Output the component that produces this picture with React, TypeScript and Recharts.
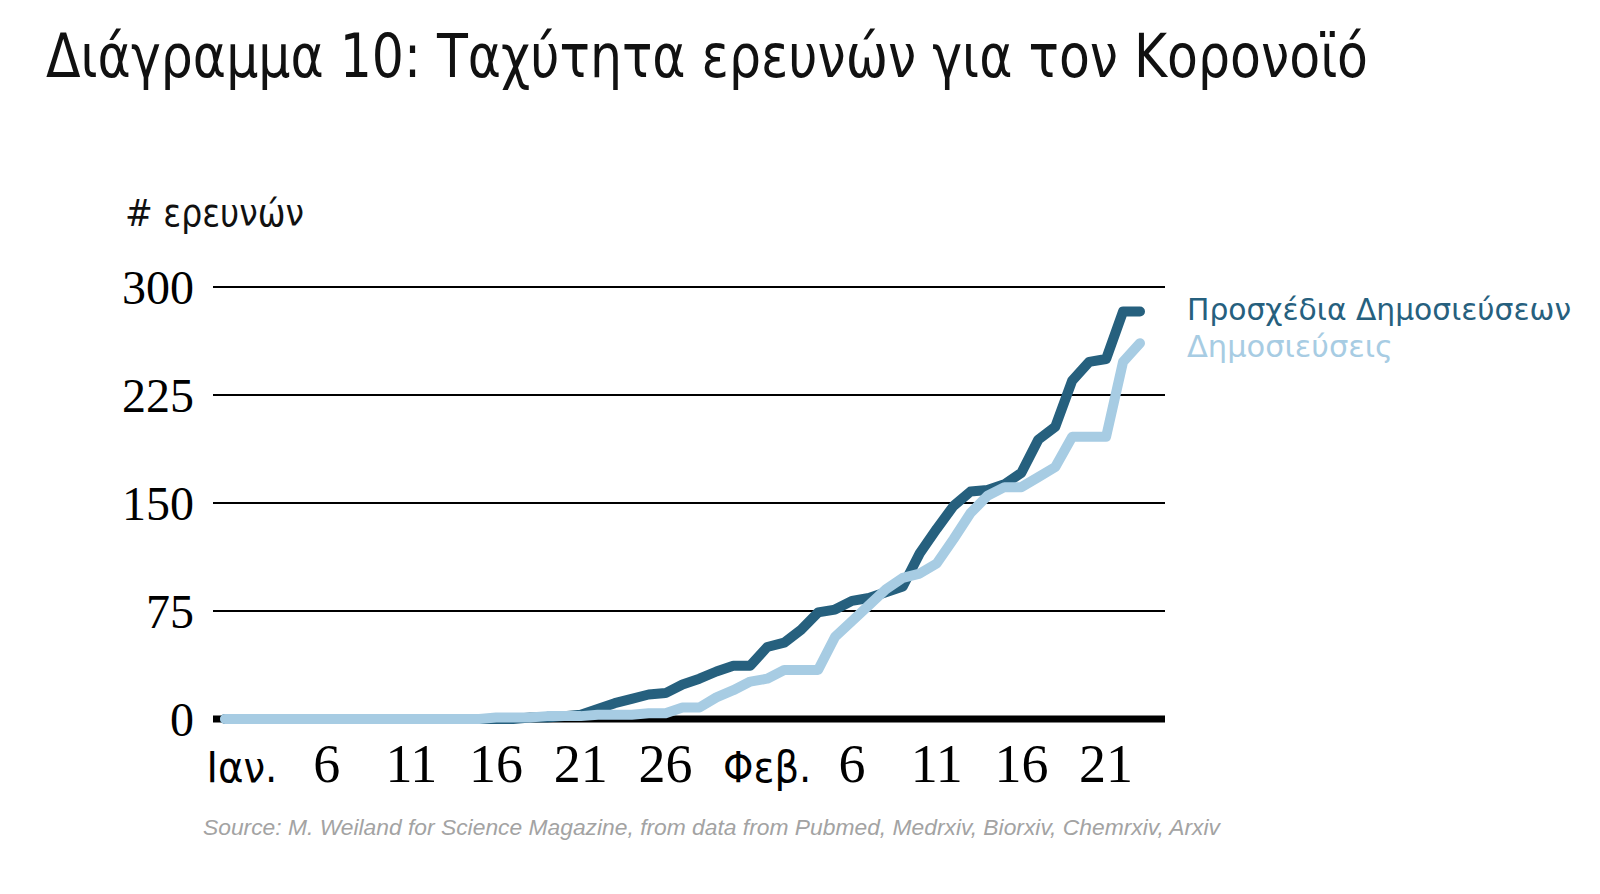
import React from "react"
import { LineChart, Line, XAxis, YAxis, CartesianGrid } from "recharts"

// one point per day, 31 Dec -> 23 Feb
const days = [
  "12/31",
  "1/1", "1/2", "1/3", "1/4", "1/5", "1/6", "1/7", "1/8", "1/9", "1/10",
  "1/11", "1/12", "1/13", "1/14", "1/15", "1/16", "1/17", "1/18", "1/19", "1/20",
  "1/21", "1/22", "1/23", "1/24", "1/25", "1/26", "1/27", "1/28", "1/29", "1/30", "1/31",
  "2/1", "2/2", "2/3", "2/4", "2/5", "2/6", "2/7", "2/8", "2/9", "2/10",
  "2/11", "2/12", "2/13", "2/14", "2/15", "2/16", "2/17", "2/18", "2/19", "2/20",
  "2/21", "2/22", "2/23",
]

// Προσχέδια Δημοσιεύσεων (preprints)
const preprints = [
  0,
  0, 0, 0, 0, 0, 0, 0, 0, 0, 0,
  0, 0, 0, 0, 0, 0, 0, 1, 1, 2,
  3, 7, 11, 14, 17, 18, 24, 28, 33, 37, 37,
  50, 53, 62, 74, 76, 82, 84, 88, 92, 115,
  132, 148, 158, 159, 163, 171, 194, 203, 235, 248,
  250, 283, 283,
]

// Δημοσιεύσεις (publications)
const publications = [
  0,
  0, 0, 0, 0, 0, 0, 0, 0, 0, 0,
  0, 0, 0, 0, 0, 1, 1, 1, 2, 2,
  2, 3, 3, 3, 4, 4, 8, 8, 15, 20, 26,
  28, 34, 34, 34, 57, 68, 79, 90, 98, 101,
  108, 125, 143, 155, 161, 161, 168, 175, 196, 196,
  196, 248, 261,
]

const xTicks = ["1/1", "1/6", "1/11", "1/16", "1/21", "1/26", "2/1", "2/6", "2/11", "2/16", "2/21"]
const xTickLabels = ["Ιαν.", "6", "11", "16", "21", "26", "Φεβ.", "6", "11", "16", "21"]
const yTicks = [0, 75, 150, 225, 300]

const DARK = "#26607E"
const LIGHT = "#A7CCE3"
const SANS = "'DejaVu Sans Condensed', 'DejaVu Sans', sans-serif"
const SERIF = "'Liberation Serif', 'DejaVu Serif', serif"

const data = days.map((d, i) => ({
  day: d,
  preprints: preprints[i],
  publications: publications[i],
}))

function XTick(props: any) {
  const { x, y, payload } = props
  const idx = xTicks.indexOf(payload.value)
  const label = xTickLabels[idx] ?? ""
  const isMonth = isNaN(Number(label))
  return (
    <text
      x={x}
      y={y + 63}
      textAnchor="middle"
      fill="#000"
      fontFamily={isMonth ? SANS : SERIF}
      fontStretch={isMonth ? "condensed" : undefined}
      fontSize={isMonth ? 43 : 54}
    >
      {label}
    </text>
  )
}

function GridLine(props: any) {
  const { x1, x2, y1, y2, index } = props
  return (
    <line
      key={`g-${index}`}
      x1={x1}
      x2={x2}
      y1={y1}
      y2={y2}
      stroke="#000"
      strokeWidth={index === 0 ? 7 : 2}
    />
  )
}

export default function App() {
  return (
    <div
      style={{
        position: "absolute",
        left: 0,
        top: 0,
        width: 1600,
        height: 894,
        background: "#fff",
        overflow: "hidden",
      }}
    >
      <div style={{ position: "absolute", left: 0, top: 0 }}>
        <LineChart
          width={1600}
          height={894}
          data={data}
          margin={{ top: 287, right: 435, bottom: 0, left: 0 }}
        >
          <CartesianGrid vertical={false} horizontal={GridLine} />
          <XAxis
            dataKey="day"
            ticks={xTicks}
            interval={0}
            height={175}
            axisLine={false}
            tickLine={false}
            tickSize={0}
            tickMargin={0}
            padding={{ left: 12, right: 25 }}
            tick={<XTick />}
          />
          <YAxis
            domain={[0, 300]}
            ticks={yTicks}
            width={213}
            axisLine={false}
            tickLine={false}
            tickSize={0}
            tickMargin={19}
            tick={{ fontFamily: SERIF, fontSize: 48, fill: "#000" }}
          />
          <Line
            type="linear"
            dataKey="preprints"
            stroke={DARK}
            strokeWidth={10}
            strokeLinecap="round"
            strokeLinejoin="round"
            dot={false}
            activeDot={false}
            isAnimationActive={false}
          />
          <Line
            type="linear"
            dataKey="publications"
            stroke={LIGHT}
            strokeWidth={10}
            strokeLinecap="round"
            strokeLinejoin="round"
            dot={false}
            activeDot={false}
            isAnimationActive={false}
          />
        </LineChart>
      </div>
      <svg
        width={1600}
        height={894}
        style={{ position: "absolute", left: 0, top: 0, pointerEvents: "none" }}
      >
        <text
          x={46}
          y={77}
          fontFamily={SANS}
          fontStretch="condensed"
          fontSize={60}
          fill="#111"
          textLength={1322}
          lengthAdjust="spacingAndGlyphs"
        >
          Διάγραμμα 10: Ταχύτητα ερευνών για τον Κορονοϊό
        </text>
        <text
          x={125}
          y={226}
          fontFamily={SANS}
          fontStretch="condensed"
          fontSize={38}
          fill="#111"
          textLength={179}
          lengthAdjust="spacingAndGlyphs"
        >
          # ερευνών
        </text>
        <text
          x={1187}
          y={320}
          fontFamily={SANS}
          fontStretch="condensed"
          fontSize={30}
          fill={DARK}
          textLength={384}
          lengthAdjust="spacingAndGlyphs"
        >
          Προσχέδια Δημοσιεύσεων
        </text>
        <text
          x={1187}
          y={357}
          fontFamily={SANS}
          fontStretch="condensed"
          fontSize={30}
          fill={LIGHT}
          textLength={206}
          lengthAdjust="spacingAndGlyphs"
        >
          Δημοσιεύσεις
        </text>
        <text
          x={203}
          y={835}
          fontFamily="'Liberation Sans', Arial, sans-serif"
          fontStyle="italic"
          fontSize={22}
          fill="#a3a3a3"
          textLength={1017}
          lengthAdjust="spacingAndGlyphs"
        >
          Source: M. Weiland for Science Magazine, from data from Pubmed, Medrxiv, Biorxiv, Chemrxiv, Arxiv
        </text>
      </svg>
    </div>
  )
}
